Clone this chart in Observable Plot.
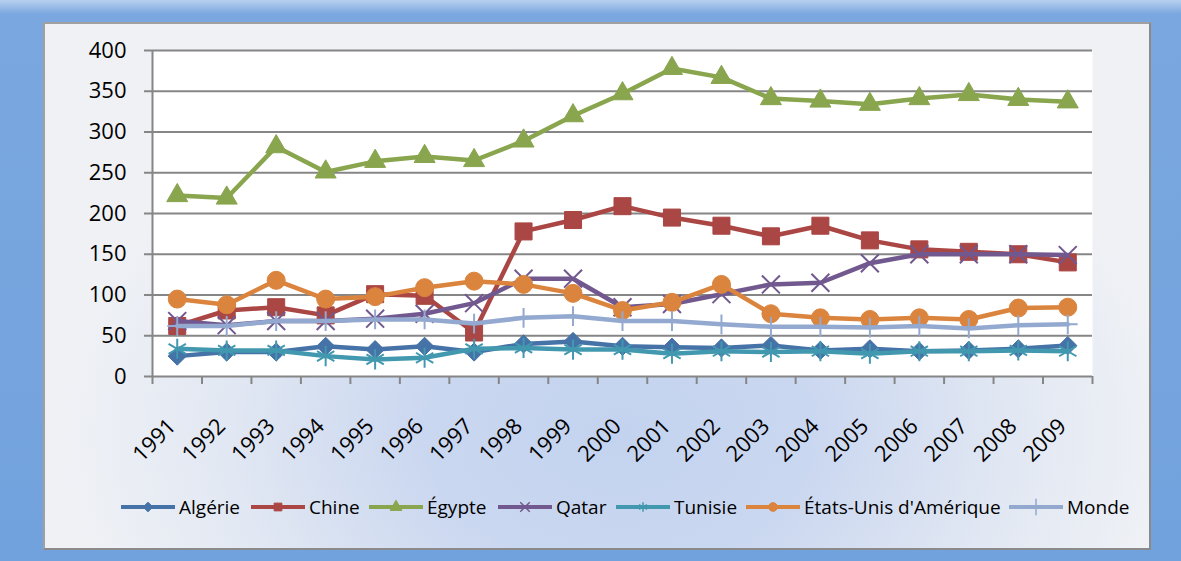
<!DOCTYPE html>
<html><head><meta charset="utf-8">
<script src="https://cdn.jsdelivr.net/npm/d3@7"></script>
<script src="https://cdn.jsdelivr.net/npm/@observablehq/plot@0.6"></script>
<style>
html,body{margin:0;padding:0;}
body{width:1181px;height:561px;position:relative;overflow:hidden;background:linear-gradient(#b9d0ef 0px,#7aa7df 14px,#72a2dd 100%);font-family:"Open Sans",sans-serif;}
#panel{position:absolute;left:43px;top:22px;width:1104px;height:524px;border:2px solid #8a8a8a;border-top-color:#a0a0a0;border-left-color:#a0a0a0;background:radial-gradient(ellipse 50% 75% at 52% 78%, #c3d3ef 0%, #cad7f0 35%, #e2e8f3 72%, #eff1f5 100%);}
#chart{position:absolute;left:0;top:0;}
#legend{position:absolute;top:494px;left:0;width:1181px;height:24px;font-size:19px;white-space:nowrap;color:#000;}
.item{position:absolute;top:0;display:flex;align-items:center;gap:4px;}
.item svg{display:block;}
</style>
</head><body>
<div id="panel"></div>
<div id="chart"></div>
<div id="legend"></div>
<script>
const years = [1991,1992,1993,1994,1995,1996,1997,1998,1999,2000,2001,2002,2003,2004,2005,2006,2007,2008,2009];
const algerie = [25,30,30,37,33,37,30,40,43,37,36,35,38,32,34,31,32,34,38];
const chine   = [62,81,85,75,101,99,54,178,192,209,195,185,172,185,167,156,153,150,140];
const egypte  = [222,219,282,251,264,270,265,289,320,347,378,367,341,338,334,341,346,340,337];
const qatar   = [68,63,68,68,71,77,90,120,120,85,89,101,113,115,139,150,150,150,149];
const tunisie = [34,32,32,25,21,23,34,35,33,33,28,31,30,31,28,31,31,32,31];
const usa     = [95,88,118,95,98,109,117,113,102,81,91,113,77,72,70,72,70,84,85];
const monde   = [62,62,68,68,70,70,65,72,74,68,68,64,61,61,60,62,59,63,64];

const seriesNames = ["Algérie","Chine","Égypte","Qatar","Tunisie","États-Unis d'Amérique","Monde"];
const seriesValues = [algerie, chine, egypte, qatar, tunisie, usa, monde];
const seriesColors = ["#4572A7","#AA4643","#89A54E","#71588F","#4198AF","#DB843D","#93A9CF"];
const seriesSymbols = ["diamond2","square","triangle","times","asterisk","circle","plus"];
const seriesFilled = [true,true,true,false,false,true,false];
const seriesR = [8.2,9.6,7.8,8.2,9.5,9,6.4];
const d3Symbols = [d3.symbolDiamond2,d3.symbolSquare,d3.symbolTriangle,d3.symbolTimes,d3.symbolAsterisk,d3.symbolCircle,d3.symbolPlus];
const yTicks = [0,50,100,150,200,250,300,350,400];
const legendLeft = [121,251,369,498,616,746,1009];

const xMin = d3.min(years) - 0.5, xMax = d3.max(years) + 0.5;
const boundaries = d3.range(xMin, xMax + 0.01, 1);

const marks = [
  Plot.frame({fill: "white", stroke: "none"}),
  Plot.gridY(yTicks, {stroke: "#868686", strokeOpacity: 1, strokeWidth: 2}),
  Plot.ruleX([xMin], {stroke: "#868686", strokeWidth: 2}),
  Plot.axisY(yTicks, {label: null, tickSize: 8, tickPadding: 18, stroke: "#868686", strokeWidth: 2, fill: "#000", fontSize: 22, fontFamily: "Open Sans", tickFormat: d => String(d)}),
  Plot.axisX(boundaries, {label: null, tickSize: 8, stroke: "#868686", strokeWidth: 2, tickFormat: () => ""}),
  Plot.axisX(years, {label: null, tickSize: 0, tickPadding: 46, dx: -5, tickRotate: -45, fill: "#000", fontSize: 22, fontFamily: "Open Sans", tickFormat: d => String(d)})
];
seriesNames.forEach((name, k) => {
  const rows = years.map((yr, i) => ({year: yr, value: seriesValues[k][i], series: name}));
  marks.push(Plot.line(rows, {x: "year", y: "value", stroke: seriesColors[k], strokeWidth: 4.5, strokeLinejoin: "round", curve: "linear"}));
  marks.push(Plot.dot(rows, {x: "year", y: "value", symbol: seriesSymbols[k], r: seriesR[k],
    fill: seriesFilled[k] ? seriesColors[k] : "none", stroke: seriesColors[k], strokeWidth: seriesFilled[k] ? 1 : 2}));
});

const chart = Plot.plot({
  width: 1181, height: 470,
  marginLeft: 152, marginRight: 89, marginTop: 50, marginBottom: 94,
  x: {domain: [xMin, xMax], label: null},
  y: {domain: [0, 400], label: null},
  style: {background: "transparent", overflow: "visible", fontFamily: "Open Sans"},
  marks
});
document.getElementById("chart").appendChild(chart);

const legend = d3.select("#legend");
seriesNames.forEach((name, k) => {
  const item = legend.append("div").attr("class", "item").style("left", legendLeft[k] + "px");
  const svg = item.append("svg").attr("width", 54).attr("height", 24);
  svg.append("line").attr("x1", 0).attr("x2", 54).attr("y1", 12).attr("y2", 12)
    .attr("stroke", seriesColors[k]).attr("stroke-width", 4);
  svg.append("path").attr("transform", "translate(27,12)")
    .attr("d", d3.symbol(d3Symbols[k], k === 6 ? 90 : 60)())
    .attr("fill", seriesFilled[k] ? seriesColors[k] : "none")
    .attr("stroke", seriesColors[k]).attr("stroke-width", seriesFilled[k] ? 1 : 1.5);
  item.append("span").text(name);
});
</script>
</body></html>
